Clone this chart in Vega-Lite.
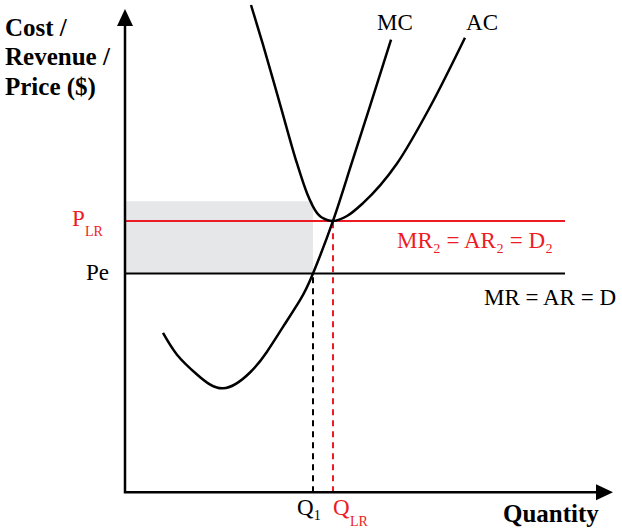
{
  "$schema": "https://vega.github.io/schema/vega-lite/v6.json",
  "width": 622,
  "height": 530,
  "padding": 0,
  "autosize": {"type": "fit", "contains": "padding"},
  "background": "white",
  "config": {"view": {"stroke": null}, "text": {"font": "Liberation Serif"}},
  "encoding": {
    "x": {"field": "q", "type": "quantitative", "axis": null, "scale": {"domain": [-31.25, 124.25], "nice": false, "zero": false}},
    "y": {"field": "p", "type": "quantitative", "axis": null, "scale": {"domain": [-9.5, 123], "nice": false, "zero": false}}
  },
  "layer": [
    {
      "description": "Shaded area between Pe and the top of the box, up to Q1",
      "data": {"values": [{"q": 0, "q2": 47, "p": 55.25, "p2": 73.5}]},
      "mark": {"type": "rect", "color": "#e6e7e8"},
      "encoding": {"x2": {"field": "q2"}, "y2": {"field": "p2"}}
    },
    {
      "description": "Dashed drop line at Q1",
      "data": {"values": [{"q": 47, "p": 0, "p2": 55.25}]},
      "mark": {"type": "rule", "color": "#000000", "strokeWidth": 2, "strokeDash": [6, 5]},
      "encoding": {"y2": {"field": "p2"}}
    },
    {
      "description": "Dashed drop line at QLR",
      "data": {"values": [{"q": 52, "p": 0, "p2": 68.5}]},
      "mark": {"type": "rule", "color": "#ed1c24", "strokeWidth": 2, "strokeDash": [6, 5]},
      "encoding": {"y2": {"field": "p2"}}
    },
    {
      "description": "MR = AR = D at Pe",
      "data": {"values": [{"q": 0, "q2": 110, "p": 55.25}]},
      "mark": {"type": "rule", "color": "#000000", "strokeWidth": 2},
      "encoding": {"x2": {"field": "q2"}}
    },
    {
      "description": "MR2 = AR2 = D2 at the long-run price",
      "data": {"values": [{"q": 0, "q2": 110, "p": 68.5}]},
      "mark": {"type": "rule", "color": "#ed1c24", "strokeWidth": 2},
      "encoding": {"x2": {"field": "q2"}}
    },
    {
      "description": "Marginal cost",
      "data": {"values": [
        {"q": 9.5, "p": 40.25}, {"q": 13, "p": 34.75}, {"q": 18, "p": 29.75},
        {"q": 24.5, "p": 26.25}, {"q": 31.25, "p": 30.25}, {"q": 35.5, "p": 35.5},
        {"q": 39.5, "p": 41.75}, {"q": 43.75, "p": 48.5}, {"q": 47, "p": 55.25},
        {"q": 52, "p": 68.5}, {"q": 56.25, "p": 81.75}, {"q": 61.25, "p": 97.5},
        {"q": 66.5, "p": 114.25}
      ]},
      "mark": {"type": "line", "color": "#000000", "strokeWidth": 2.5, "interpolate": "natural", "strokeCap": "butt"}
    },
    {
      "description": "Average cost",
      "data": {"values": [
        {"q": 31.5, "p": 123}, {"q": 34.5, "p": 113}, {"q": 38.75, "p": 98},
        {"q": 43, "p": 83}, {"q": 45.5, "p": 75.5}, {"q": 48, "p": 70.5},
        {"q": 50.5, "p": 68.75}, {"q": 52, "p": 68.5}, {"q": 55.5, "p": 69.75},
        {"q": 59.5, "p": 73}, {"q": 68, "p": 83}, {"q": 76.25, "p": 97.25},
        {"q": 85, "p": 114.75}
      ]},
      "mark": {"type": "line", "color": "#000000", "strokeWidth": 2.5, "interpolate": "monotone", "strokeCap": "butt"}
    },
    {
      "description": "Axes",
      "data": {"values": [{"k": 1, "q": 0, "p": 118}, {"k": 2, "q": 0, "p": 0}, {"k": 3, "q": 118, "p": 0}]},
      "mark": {"type": "line", "color": "#000000", "strokeWidth": 2.5, "strokeJoin": "miter"},
      "encoding": {"order": {"field": "k", "type": "quantitative"}}
    },
    {
      "description": "Arrowhead on the price axis",
      "data": {"values": [{"q": 0, "p": 119.875}]},
      "mark": {"type": "point", "filled": true, "color": "#000000", "opacity": 1, "size": 289, "shape": "M0,-1L0.94,1L-0.94,1Z"}
    },
    {
      "description": "Arrowhead on the quantity axis",
      "data": {"values": [{"q": 119.875, "p": 0}]},
      "mark": {"type": "point", "filled": true, "color": "#000000", "opacity": 1, "size": 289, "shape": "M1,0L-1,0.94L-1,-0.94Z"}
    },
    {
      "description": "Axis titles",
      "data": {"values": [
        {"q": -30, "p": 115.25, "t": "Cost /"},
        {"q": -30, "p": 107.75, "t": "Revenue /"},
        {"q": -30, "p": 100.25, "t": "Price ($)"},
        {"q": 94.5, "p": -7.5, "t": "Quantity"}
      ]},
      "mark": {"type": "text", "align": "left", "baseline": "alphabetic", "fontWeight": "bold", "fontSize": 25, "color": "#000000"},
      "encoding": {"text": {"field": "t"}}
    },
    {
      "description": "Curve labels",
      "data": {"values": [
        {"q": 67.5, "p": 116.75, "t": "MC"},
        {"q": 89.25, "p": 116.75, "t": "AC"}
      ]},
      "mark": {"type": "text", "align": "center", "baseline": "alphabetic", "fontSize": 23, "color": "#000000"},
      "encoding": {"text": {"field": "t"}}
    },
    {
      "description": "Pe price label",
      "data": {"values": [{"q": -4, "p": 53.5, "t": "Pe"}]},
      "mark": {"type": "text", "align": "right", "baseline": "alphabetic", "fontSize": 23, "color": "#000000"},
      "encoding": {"text": {"field": "t"}}
    },
    {
      "description": "Black left-aligned labels",
      "data": {"values": [
        {"q": 89.75, "p": 47.25, "t": "MR = AR = D"},
        {"q": 43, "p": -5.75, "t": "Q₁"}
      ]},
      "mark": {"type": "text", "align": "left", "baseline": "alphabetic", "fontSize": 23, "color": "#000000"},
      "encoding": {"text": {"field": "t"}}
    },
    {
      "description": "Red labels",
      "data": {"values": [
        {"q": -13.25, "p": 67.25, "t": "P"},
        {"q": 68, "p": 61.75, "t": "MR₂ = AR₂ = D₂"},
        {"q": 52, "p": -5.75, "t": "Q"}
      ]},
      "mark": {"type": "text", "align": "left", "baseline": "alphabetic", "fontSize": 23, "color": "#ed1c24"},
      "encoding": {"text": {"field": "t"}}
    },
    {
      "description": "Red LR subscripts",
      "data": {"values": [
        {"q": -10, "p": 64.75, "t": "LR"},
        {"q": 56.25, "p": -8.5, "t": "LR"}
      ]},
      "mark": {"type": "text", "align": "left", "baseline": "alphabetic", "fontSize": 14, "color": "#ed1c24"},
      "encoding": {"text": {"field": "t"}}
    }
  ]
}
